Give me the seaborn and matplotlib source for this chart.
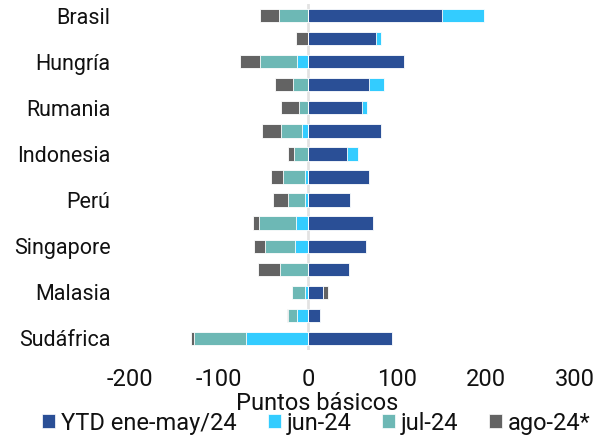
import matplotlib
matplotlib.use("Agg")
import matplotlib.pyplot as plt
from matplotlib.patches import Patch
import numpy as np
import pandas as pd
import seaborn as sns

# Countries (top to bottom); only every other name is printed on the axis
countries = ["Brasil", "México", "Hungría", "Chile", "Rumania", "Colombia",
             "Indonesia", "Polonia", "Perú", "Tailandia", "Singapore", "India",
             "Malasia", "Corea", "Sudáfrica"]

# Change in basis points per period
ytd = [150, 76, 108, 68, 61, 82, 44, 68, 47, 73, 65, 46, 17, 13, 94]
jun = [48, 6, -12, 17, 5, -7, 12, -3, -3, -13, -15, 0, -3, -12, -70]
jul = [-33, 0, -42, -17, -10, -23, -16, -25, -20, -42, -33, -32, -15, -10, -58]
ago = [-21, -13, -22, -20, -20, -22, -7, -14, -16, -7, -13, -24, 5, -2, -3]

series_names = ["YTD ene-may/24", "jun-24", "jul-24", "ago-24*"]
colors = ["#2a4f96", "#33ccff", "#6db8b5", "#636363"]

df = pd.DataFrame({"pais": countries, series_names[0]: ytd, series_names[1]: jun,
                   series_names[2]: jul, series_names[3]: ago})

# Separate positive and negative stacks
vals = df[series_names].to_numpy(dtype=float)
pos_cum = np.cumsum(np.clip(vals, 0, None), axis=1)
neg_cum = np.cumsum(np.clip(vals, None, 0), axis=1)

sns.set_theme(style="white")
plt.rcParams["font.family"] = ["Roboto", "DejaVu Sans"]
plt.rcParams["axes.unicode_minus"] = False
FS_Y = 15.5
FS = 17

fig = plt.figure(figsize=(6.07, 4.40), dpi=100)
ax = fig.add_axes([130 / 607, 1 - 350 / 440, (575 - 130) / 607, 346 / 440])

# Draw outermost layers first so inner segments sit on top
for i in range(len(series_names) - 1, -1, -1):
    for cum in (pos_cum, neg_cum):
        sns.barplot(x=cum[:, i], y=df["pais"], order=countries, orient="h",
                    color=colors[i], saturation=1, width=0.58,
                    edgecolor="white", linewidth=0.6, ax=ax)

ax.axvline(0, color="#e3e3e3", linewidth=2, zorder=0.5)

ax.set_xlim(-200, 300)
ax.set_ylim(14.5, -0.5)
ax.set_xticks([-200, -100, 0, 100, 200, 300])
ax.set_xticklabels(["-200", "-100", "0", "100", "200", "300"], fontsize=FS)
ax.set_yticks(range(len(countries)))
ax.set_yticklabels([c if k % 2 == 0 else "" for k, c in enumerate(countries)],
                   fontsize=FS_Y)
ax.tick_params(axis="y", length=0, pad=14, colors="#111111")
ax.tick_params(axis="x", length=0, pad=13, colors="#111111")
ax.set_ylabel("")
ax.set_xlabel("Puntos básicos", fontsize=FS, color="#111111")
ax.xaxis.set_label_coords(0.42, -0.12)
for s in ax.spines.values():
    s.set_visible(False)
ax.grid(False)

handles = [Patch(facecolor=c, edgecolor="white", linewidth=0.5, label=n)
           for c, n in zip(colors, series_names)]
fig.legend(handles=handles, loc="center", bbox_to_anchor=(316.5 / 607, 1 - 423 / 440),
           ncol=4, frameon=False, fontsize=FS, handlelength=0.55, handleheight=0.55,
           handletextpad=0.25, columnspacing=1.3, borderpad=0, labelcolor="#111111")

fig.savefig("out.png", dpi=100)
